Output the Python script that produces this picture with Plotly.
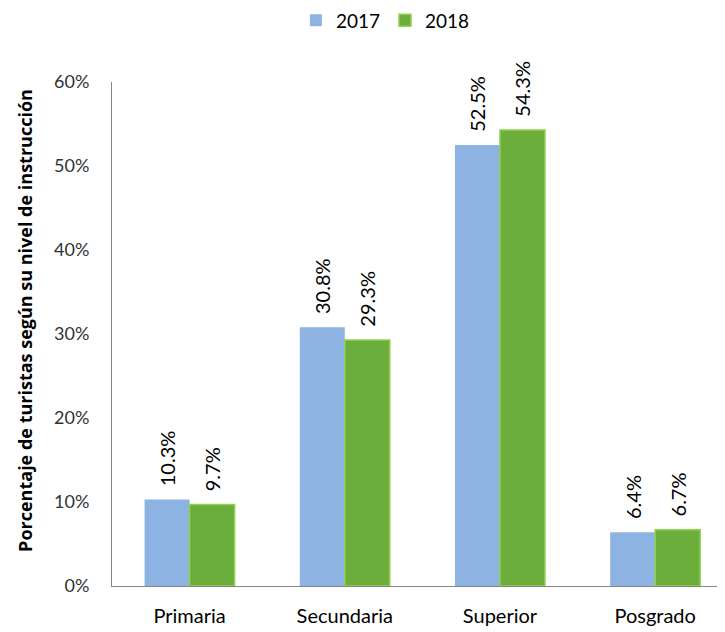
import plotly.graph_objects as go

categorias = ["Primaria", "Secundaria", "Superior", "Posgrado"]
valores_2017 = [10.3, 30.8, 52.5, 6.4]
valores_2018 = [9.7, 29.3, 54.3, 6.7]
ticks_y = [0, 10, 20, 30, 40, 50, 60]

FUENTE = "Lato, 'Noto Sans', Arial, sans-serif"

fig = go.Figure()
fig.add_trace(go.Bar(
    x=categorias, y=valores_2017, name="2017",
    marker=dict(color="#8db3e2", line=dict(width=0)),
    text=[f"  {v:.1f}%" for v in valores_2017],
    textposition="outside", textangle=-90, cliponaxis=False, constraintext="none",
    textfont=dict(size=20, color="#000000"),
))
fig.add_trace(go.Bar(
    x=categorias, y=valores_2018, name="2018",
    marker=dict(color="#6cae3c", line=dict(width=1.5, color="#92d050")),
    text=[f"  {v:.1f}%" for v in valores_2018],
    textposition="outside", textangle=-90, cliponaxis=False, constraintext="none",
    textfont=dict(size=20, color="#000000"),
))

# la página añade 8 px de margen al cuerpo; los márgenes lo compensan
fig.update_layout(
    width=725, height=632,
    paper_bgcolor="white", plot_bgcolor="white",
    font=dict(family=FUENTE, size=18, color="#000000"),
    barmode="group", bargap=0.42, bargroupgap=0,
    margin=dict(l=104, r=8, t=74, b=54, autoexpand=False),
    legend=dict(orientation="h", x=0.446, xanchor="center", y=1.122, yanchor="middle",
                font=dict(size=19), itemwidth=30),
    showlegend=True,
)
fig.update_xaxes(
    range=[-0.5, 3.45], showline=True, linecolor="#868686", linewidth=1,
    ticks="", showgrid=False, tickfont=dict(size=20), ticklabelstandoff=12,
    automargin=False,
)
fig.update_yaxes(
    range=[0, 60], tickvals=ticks_y, ticktext=[f"{t}%" for t in ticks_y],
    showline=True, linecolor="#868686", linewidth=1, ticks="",
    showgrid=False, zeroline=False, tickfont=dict(size=18, color="#333333"),
    ticklabelstandoff=18, automargin=False,
)
fig.add_annotation(
    text="<b>Porcentaje de turistas según su nivel de instrucción</b>",
    xref="paper", yref="paper", x=-87 / 613, y=0.526, xanchor="center", yanchor="middle",
    textangle=-90, showarrow=False, font=dict(family="'Open Sans', sans-serif", size=18),
)

fig.write_html("out.html")
